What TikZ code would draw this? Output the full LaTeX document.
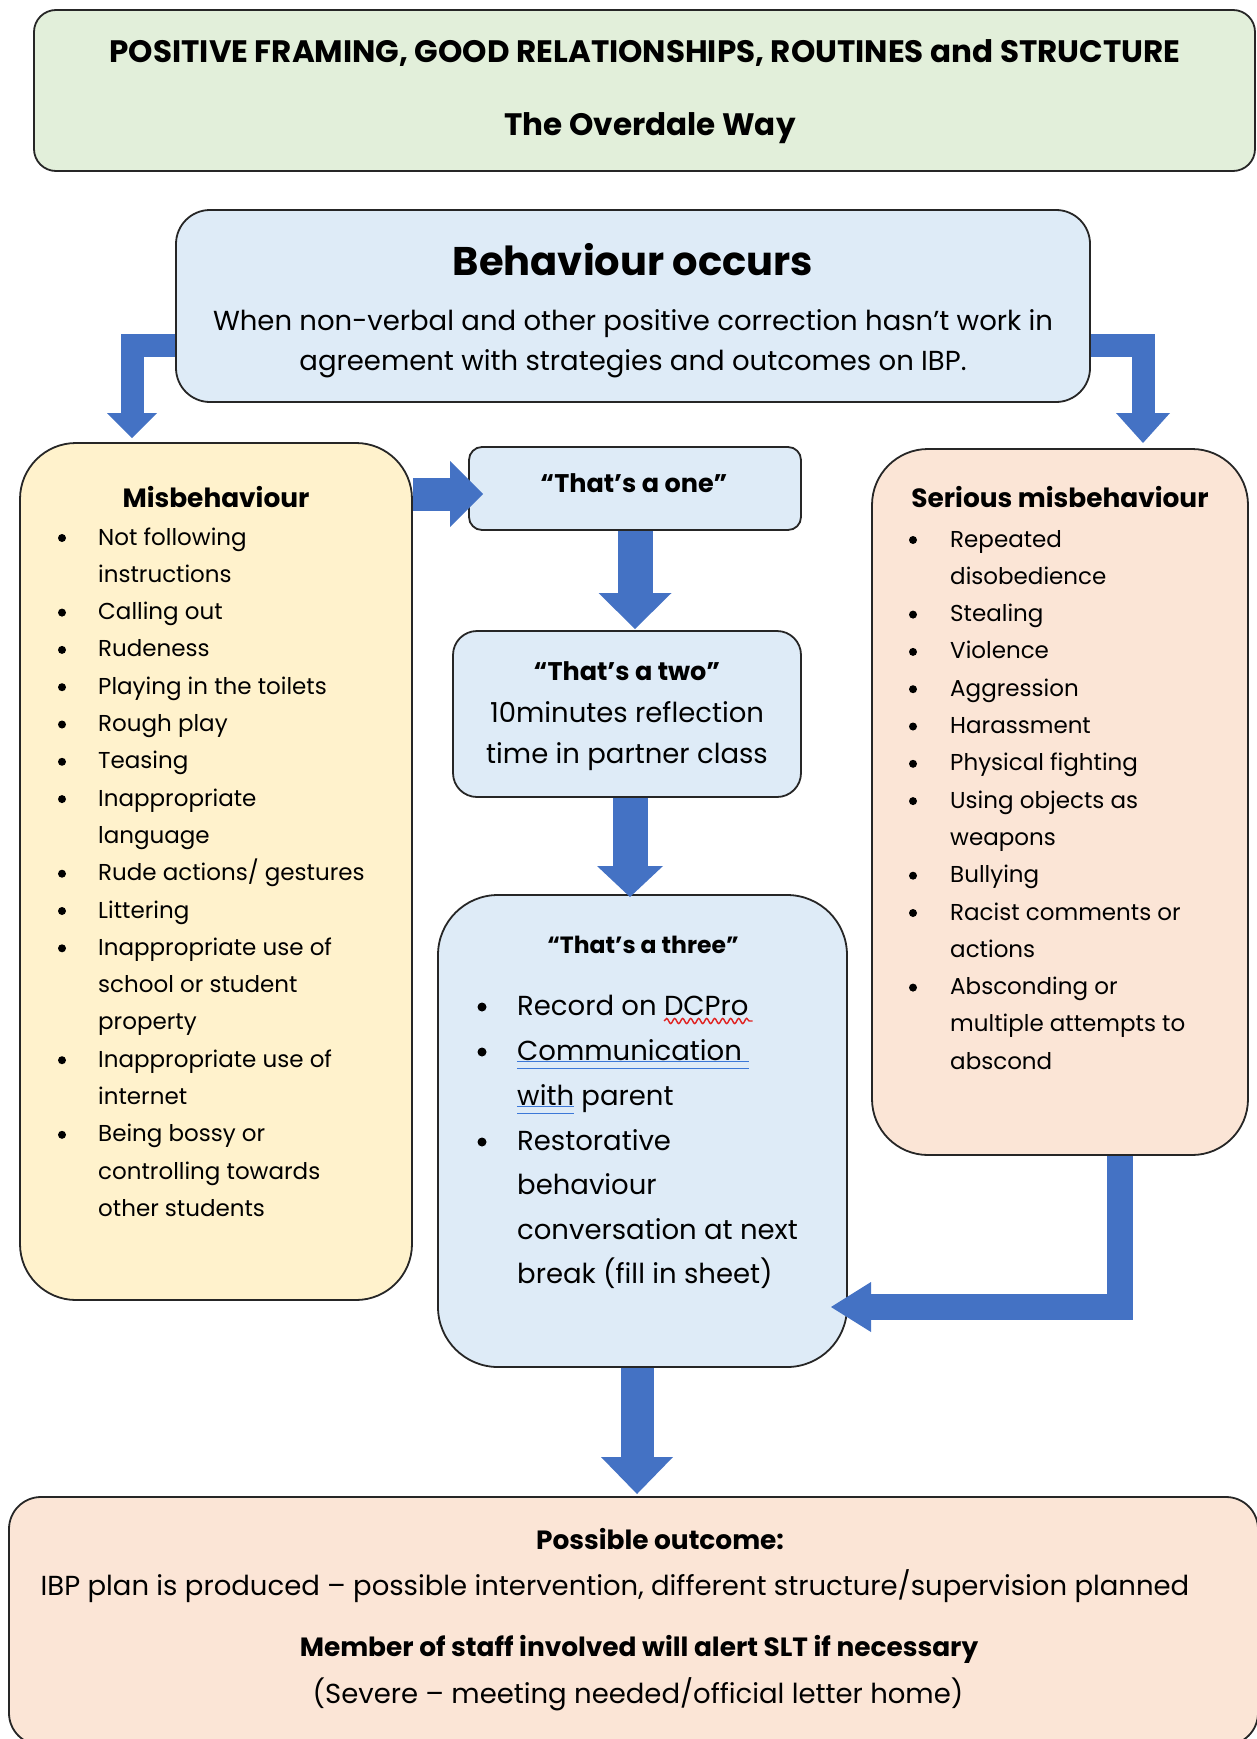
\documentclass[tikz,border=0pt]{standalone}
\usepackage{fontspec}
\setmainfont{Poppins}
\usetikzlibrary{arrows.meta,decorations.pathmorphing}
\definecolor{boxgreen}{HTML}{E2EFDA}
\definecolor{boxblue}{HTML}{DEEBF7}
\definecolor{boxyellow}{HTML}{FFF2CC}
\definecolor{boxpeach}{HTML}{FBE5D6}
\definecolor{arrowblue}{HTML}{4472C4}
\definecolor{ulblue}{HTML}{3C78D8}
\definecolor{wavered}{HTML}{E0201F}
\newcommand\dul[1]{\setbox0\hbox{#1}\rlap{\color{ulblue}\rule[-2.4pt]{\wd0}{1.5pt}}\rlap{\color{ulblue}\rule[-9pt]{\wd0}{1.5pt}}\box0\relax}
\newlength\dcw
\begin{document}
\settowidth{\dcw}{\fontsize{27.5}{32}\selectfont DCPro}%
\begin{tikzpicture}[x=1pt,y=-1pt,
  box/.style={draw=black!85, line width=1.8pt, rectangle, inner sep=0pt},
  blkarrow/.style={draw=arrowblue, line join=miter, line cap=butt},
  txt/.style={inner sep=0pt, anchor=base, text=black},
  head/.style={font=\bfseries\fontsize{26.4}{30}\selectfont},
  listf/.style={font=\fontsize{23}{27}\selectfont},
  mid/.style={font=\fontsize{27.5}{32}\selectfont},
  dot/.style={circle, fill=black, inner sep=0pt, minimum size=#1}]
\useasboundingbox (0,0) rectangle (1256,1739);

% boxes
\node[box, fill=boxgreen, rounded corners=22pt, minimum width=1221pt, minimum height=161pt] (frame) at (644.5,90.5) {};
\node[box, fill=boxblue, rounded corners=34pt, minimum width=914pt, minimum height=192pt] (behav) at (633,306) {};
\node[box, fill=boxyellow, rounded corners=56pt, minimum width=392pt, minimum height=857pt] (misb) at (216,871.5) {};
\node[box, fill=boxblue, rounded corners=13pt, minimum width=332pt, minimum height=83pt] (one) at (635,488.5) {};
\node[box, fill=boxblue, rounded corners=24pt, minimum width=348pt, minimum height=166pt] (two) at (627,714) {};
\node[box, fill=boxblue, rounded corners=60pt, minimum width=409pt, minimum height=472pt] (three) at (642.5,1131) {};
\node[box, fill=boxpeach, rounded corners=56pt, minimum width=376pt, minimum height=706pt] (serious) at (1060,802) {};
\node[box, fill=boxpeach, rounded corners=32pt, minimum width=1249pt, minimum height=248pt] (outcome) at (633.5,1621) {};

% arrows
\coordinate (t1) at (132,438);
\coordinate (t2) at (1143,443);
\coordinate (t3) at (483,494);
\coordinate (t4) at (635,629);
\coordinate (t5) at (630,897);
\coordinate (c6) at (1120,1164);
\coordinate (t6) at (831,1307);
\coordinate (t7) at (637,1494);
\draw[blkarrow, line width=23pt, -{Triangle[length=25pt,width=50pt,line width=0pt]}] ([yshift=-39pt]behav.west) -| (t1);
\draw[blkarrow, line width=23pt, -{Triangle[length=30pt,width=54pt,line width=0pt]}] ([yshift=-39pt]behav.east) -| (t2);
\draw[blkarrow, line width=33pt, -{Triangle[length=33pt,width=66pt,line width=0pt]}] (misb.east |- t3) -- (t3);
\draw[blkarrow, line width=35pt, -{Triangle[length=36pt,width=73pt,line width=0pt]}] (one.south -| t4) -- (t4);
\draw[blkarrow, line width=35pt, -{Triangle[length=31pt,width=66pt,line width=0pt]}] (two.south -| t5) -- (t5);
\draw[blkarrow, line width=26pt, -{Triangle[length=40pt,width=50pt,line width=0pt]}] (serious.south -| c6) |- (t6);
\draw[blkarrow, line width=33pt, -{Triangle[length=37pt,width=72pt,line width=0pt]}] (three.south -| t7) -- (t7);

% texts
\node[txt, font=\bfseries\fontsize{31}{36}\selectfont] (ttl) at (645,63) {POSITIVE FRAMING, GOOD RELATIONSHIPS, ROUTINES and STRUCTURE};
\node[txt, font=\bfseries\fontsize{31}{36}\selectfont] (way) at (650,136) {The Overdale Way};
\node[txt, font=\bfseries\fontsize{40}{46}\selectfont] (bo) at (633,275) {Behaviour occurs};
\node[txt, mid] (bl1) at (633,330) {When non-verbal and other positive correction hasn’t work in};
\node[txt, mid] (bl2) at (633,370) {agreement with strategies and outcomes on IBP.};

\node[txt, head] (mh) at (216,507) {Misbehaviour};
\node[txt, head] (sh) at (1060,507) {Serious misbehaviour};
\node[txt, head, font=\bfseries\fontsize{25.5}{30}\selectfont] (oneh) at (634,492) {“That’s a one”};
\node[txt, head, font=\bfseries\fontsize{25.5}{30}\selectfont] (twoh) at (627,680) {“That’s a two”};
\node[txt, mid] (two1) at (627,722) {10minutes reflection};
\node[txt, mid] (two2) at (627,763) {time in partner class};
\node[txt, head, font=\bfseries\fontsize{23.5}{28}\selectfont] (threeh) at (643,953) {“That’s a three”};

\foreach \b/\itm [count=\i] in {1/{Not following},0/instructions,1/{Calling out},1/Rudeness,1/{Playing in the toilets},1/{Rough play},1/Teasing,1/Inappropriate,0/language,1/{Rude actions/ gestures},1/Littering,1/{Inappropriate use of},0/{school or student},0/property,1/{Inappropriate use of},0/internet,1/{Being bossy or},0/{controlling towards},0/{other students}}{
  \node[txt, listf, anchor=base west] (ml\i) at (98,{545+37.3*(\i-1)}) {\itm};
  \ifnum\b=1 \node[dot=8pt] (mb\i) at (62,{538+37.3*(\i-1)}) {};\fi
}
\foreach \b/\itm [count=\i] in {1/Repeated,0/disobedience,1/Stealing,1/Violence,1/Aggression,1/Harassment,1/{Physical fighting},1/{Using objects as},0/weapons,1/Bullying,1/{Racist comments or},0/actions,1/{Absconding or},0/{multiple attempts to},0/abscond}{
  \node[txt, listf, anchor=base west] (sl\i) at (950,{547+37.3*(\i-1)}) {\itm};
  \ifnum\b=1 \node[dot=8pt] (sb\i) at (913,{540+37.3*(\i-1)}) {};\fi
}

% That's a three list
\node[txt, mid, anchor=base west] (tl1) at (517,1015) {Record on DCPro};
\node[dot=9pt] (tb1) at (482,1007) {};
\node[txt, mid, anchor=base west] (tl2) at (517,1060) {\dul{Communication\ }};
\node[dot=9pt] (tb2) at (482,1052) {};
\node[txt, mid, anchor=base west] (tl3) at (517,1105) {\dul{with} parent};
\node[txt, mid, anchor=base west] (tl4) at (517,1150) {Restorative};
\node[dot=9pt] (tb4) at (482,1142) {};
\node[txt, mid, anchor=base west] (tl5) at (517,1194) {behaviour};
\node[txt, mid, anchor=base west] (tl6) at (517,1239) {conversation at next};
\node[txt, mid, anchor=base west] (tl7) at (517,1283) {break (fill in sheet)};
\draw[wavered, line width=1.4pt, decorate, decoration={snake, amplitude=2.6pt, segment length=8pt}] ([xshift=-\dcw, yshift=-6pt]tl1.base east) -- ([xshift=4pt, yshift=-6pt]tl1.base east);

\node[txt, head] (po) at (660,1549) {Possible outcome:};
\node[txt, mid] (ibp) at (615,1595) {IBP plan is produced – possible intervention, different structure/supervision planned};
\node[txt, head] (mem) at (639,1656) {Member of staff involved will alert SLT if necessary};
\node[txt, mid] (sev) at (638,1703) {(Severe – meeting needed/official letter home)};
\end{tikzpicture}
\end{document}
